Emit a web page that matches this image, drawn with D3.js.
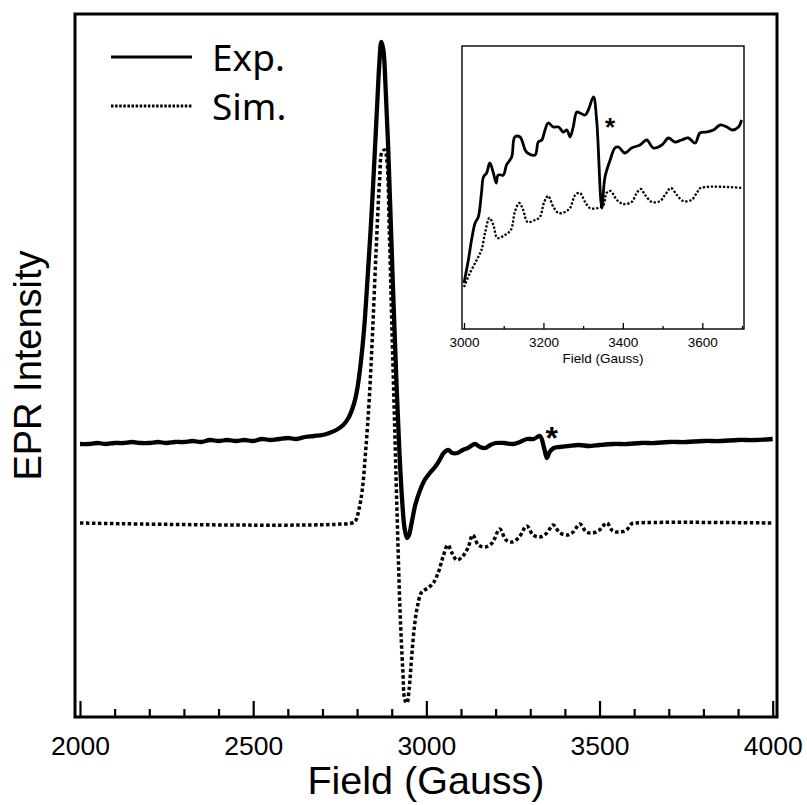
<!DOCTYPE html>
<html>
<head>
<meta charset="utf-8">
<script src="https://cdn.jsdelivr.net/npm/d3@7"></script>
<style>
  html, body { margin: 0; padding: 0; background: #fff; }
  svg { display: block; }
  .arial { font-family: "Liberation Sans", Arial, Helvetica, sans-serif; }
  .legend-text { font-family: "Noto Sans", "Open Sans", sans-serif; }
</style>
</head>
<body>
<svg id="chart" width="807" height="805"></svg>
<script>
// ---- Main spectrum: field (G) and intensity (arb. units) ----
const expField = [2000,2025,2050,2075,2100,2125,2150,2175,2200,2225,2250,2275,2300,2325,2350,2375,2400,2425,2450,2475,2500,2525,2550,2575,2600,2625,2650,2675,2700,2720,2740,2760,2775,2790,2800,2810,2820,2830,2840,2850,2858,2864,2870,2876,2882,2890,2898,2906,2914,2922,2930,2937,2944,2950,2958,2968,2980,2995,3010,3025,3040,3050,3063,3075,3090,3105,3120,3140,3155,3170,3185,3200,3225,3250,3270,3290,3310,3328,3340,3348,3356,3368,3385,3410,3440,3470,3500,3540,3580,3620,3660,3700,3750,3800,3850,3900,3950,4000];
const expIntensity = [-1,-1,0,-1,0,0,1,0,0,1,0,1,1,2,1,3,2,3,2,3,2,4,3,4,5,4,6,7,8,10,13,18,25,38,53,78,113,163,218,283,338,378,401,393,358,293,213,133,58,-7,-57,-85,-95,-92,-79,-62,-49,-37,-30,-24,-16,-10,-7,-10,-10,-7,-5,-1,-4,-5,-2,0,0,-1,1,4,4,7,-5,-15,-9,-5,-4,-3,-2,-3,-2,-1,-1,0,0,1,1,2,2,3,3,4];

const simField = [2000,2785,2795,2805,2815,2825,2835,2845,2855,2865,2872,2880,2886,2893,2900,2908,2916,2924,2932,2938,2944,2950,2958,2966,2975,2985,2995,3005,3020,3035,3048,3062,3074,3088,3103,3120,3134,3150,3170,3190,3212,3230,3248,3268,3290,3308,3328,3348,3366,3386,3408,3424,3443,3462,3480,3500,3521,3538,3558,3578,3592,3605,4000];
const simIntensity = [-80,-80,-78,-67,-47,-7,43,113,193,263,291,293,283,213,123,23,-77,-167,-227,-257,-260,-247,-212,-182,-162,-150,-147,-145,-140,-129,-114,-102,-110,-117,-114,-105,-92,-102,-104,-100,-86,-97,-99,-94,-83,-92,-94,-90,-82,-90,-92,-89,-81,-89,-90,-87,-80,-88,-89,-87,-81,-80,-80];

// ---- Inset: 3000–3700 G region, expanded ----
const insetExpField = [3000,3011,3019,3028,3036,3044,3049,3057,3065,3074,3081,3086,3099,3107,3120,3128,3141,3154,3160,3179,3187,3196,3204,3212,3225,3238,3250,3259,3267,3275,3284,3292,3305,3313,3326,3334,3347,3355,3368,3380,3389,3405,3422,3443,3460,3477,3498,3515,3531,3548,3565,3582,3594,3611,3628,3645,3662,3675,3691,3699];
const insetExpIntensity = [46,69,89,106,112,136,152,156,166,156,146,154,154,164,172,192,192,179,176,174,187,189,199,206,202,202,197,199,192,202,217,216,214,219,232,209,121,152,169,181,182,176,181,184,189,181,184,191,187,189,191,186,196,197,199,204,202,199,202,209];

const insetSimField = [3000,3015,3032,3044,3053,3064,3074,3084,3103,3118,3128,3139,3149,3160,3179,3191,3202,3212,3225,3238,3254,3267,3280,3292,3305,3317,3338,3351,3359,3369,3385,3401,3422,3435,3445,3456,3473,3494,3506,3521,3536,3552,3573,3586,3596,3700];
const insetSimIntensity = [42,56,69,79,96,111,104,91,94,99,117,126,119,107,109,112,127,133,122,116,117,121,134,136,127,121,121,124,136,138,129,125,127,136,140,134,127,128,134,141,134,128,129,136,141,141];

// ---- Axis ticks and labels ----
const mainMajorTicks = [2000, 2500, 3000, 3500, 4000];
const mainMinorTicks = d3.range(2000, 4001, 100).filter(v => v % 500 !== 0);
const insetMajorTicks = [3000, 3200, 3400, 3600];
const insetMinorTicks = [3100, 3300, 3500, 3700];
const seriesNames = ["Exp.", "Sim."];
const xTitle = "Field (Gauss)";
const yTitle = "EPR Intensity";

const svg = d3.select("#chart");
const zip = (xs, ys) => xs.map((x, i) => [x, ys[i]]);

// ---------- main panel ----------
const frame = {left: 75, right: 777, top: 14, bottom: 717};
const x = d3.scaleLinear().domain([2000, 4000]).range([80, 772.7]);
const y = d3.scaleLinear().domain([-274, 429]).range([frame.bottom, frame.top]);

const line = d3.line().x(d => x(d[0])).y(d => y(d[1])).curve(d3.curveCatmullRom.alpha(0.5));

svg.append("path")
  .datum(zip(simField, simIntensity))
  .attr("d", line)
  .attr("fill", "none").attr("stroke", "#000")
  .attr("stroke-width", 3.5).attr("stroke-dasharray", "3.5,2.5");

svg.append("path")
  .datum(zip(expField, expIntensity))
  .attr("d", line)
  .attr("fill", "none").attr("stroke", "#000")
  .attr("stroke-width", 4.3).attr("stroke-linejoin", "round");

// ticks pointing inward from the bottom edge
const majorAxis = d3.axisBottom(x).tickValues(mainMajorTicks).tickSize(-16).tickPadding(19).tickFormat(d3.format("d"));
const minorAxis = d3.axisBottom(x).tickValues(mainMinorTicks).tickSize(-8).tickFormat("");
const gMinor = svg.append("g").attr("transform", `translate(0,${frame.bottom})`).call(minorAxis);
const gMajor = svg.append("g").attr("transform", `translate(0,${frame.bottom})`).call(majorAxis);
[gMinor, gMajor].forEach(g => {
  g.attr("font-family", null).attr("font-size", null);
  g.select(".domain").remove();
  g.selectAll(".tick line").attr("stroke", "#000").attr("stroke-width", 2.2);
});
gMajor.selectAll(".tick text")
  .attr("class", "arial")
  .attr("font-size", 26.5).attr("fill", "#000");

svg.append("rect")
  .attr("x", frame.left).attr("y", frame.top)
  .attr("width", frame.right - frame.left).attr("height", frame.bottom - frame.top)
  .attr("fill", "none").attr("stroke", "#000").attr("stroke-width", 3);

svg.append("text")
  .attr("class", "arial")
  .attr("x", (frame.left + frame.right) / 2).attr("y", 794)
  .attr("text-anchor", "middle")
  .attr("font-size", 39.5).text(xTitle);

svg.append("text")
  .attr("class", "arial")
  .attr("transform", `translate(41,${(frame.top + frame.bottom) / 2}) rotate(-90)`)
  .attr("text-anchor", "middle")
  .attr("font-size", 38).text(yTitle);

svg.append("text")
  .attr("class", "arial")
  .attr("x", x(3362)).attr("y", y(-6))
  .attr("text-anchor", "middle")
  .attr("font-weight", "bold")
  .attr("font-size", 32).text("*");

// legend
const legend = svg.append("g");
[[57, null], [106, "2.5,1.6"]].forEach(([ly, dash], i) => {
  legend.append("line")
    .attr("x1", 111).attr("x2", 192).attr("y1", ly).attr("y2", ly)
    .attr("stroke", "#000").attr("stroke-width", 3)
    .attr("stroke-dasharray", dash);
  legend.append("text")
    .attr("class", "legend-text")
    .attr("x", 212).attr("y", ly + 14)
    .attr("font-size", 37).text(seriesNames[i]);
});

// ---------- inset ----------
const inFrame = {left: 462, right: 744, top: 46, bottom: 329};
const xi = d3.scaleLinear().domain([3000, 3700]).range([464, 742]);
const yi = d3.scaleLinear().domain([0, 283]).range([inFrame.bottom, inFrame.top]);
const lineIn = d3.line().x(d => xi(d[0])).y(d => yi(d[1])).curve(d3.curveCatmullRom.alpha(0.5));

const inset = svg.append("g");
inset.append("rect")
  .attr("x", inFrame.left).attr("y", inFrame.top)
  .attr("width", inFrame.right - inFrame.left).attr("height", inFrame.bottom - inFrame.top)
  .attr("fill", "#fff").attr("stroke", "none");

inset.append("path")
  .datum(zip(insetSimField, insetSimIntensity))
  .attr("d", lineIn)
  .attr("fill", "none").attr("stroke", "#000")
  .attr("stroke-width", 2.3).attr("stroke-dasharray", "2.3,1.7");

inset.append("path")
  .datum(zip(insetExpField, insetExpIntensity))
  .attr("d", lineIn)
  .attr("fill", "none").attr("stroke", "#000")
  .attr("stroke-width", 2.8).attr("stroke-linejoin", "round");

const inMajor = d3.axisBottom(xi).tickValues(insetMajorTicks).tickSize(-6).tickPadding(8).tickFormat(d3.format("d"));
const inMinor = d3.axisBottom(xi).tickValues(insetMinorTicks).tickSize(-3).tickFormat("");
const giMinor = inset.append("g").attr("transform", `translate(0,${inFrame.bottom})`).call(inMinor);
const giMajor = inset.append("g").attr("transform", `translate(0,${inFrame.bottom})`).call(inMajor);
[giMinor, giMajor].forEach(g => {
  g.attr("font-family", null).attr("font-size", null);
  g.select(".domain").remove();
  g.selectAll(".tick line").attr("stroke", "#000").attr("stroke-width", 1.3);
});
giMajor.selectAll(".tick text")
  .attr("class", "arial")
  .attr("font-size", 13.5).attr("fill", "#000");

inset.append("rect")
  .attr("x", inFrame.left).attr("y", inFrame.top)
  .attr("width", inFrame.right - inFrame.left).attr("height", inFrame.bottom - inFrame.top)
  .attr("fill", "none").attr("stroke", "#000").attr("stroke-width", 1.4);

inset.append("text")
  .attr("class", "arial")
  .attr("x", (inFrame.left + inFrame.right) / 2).attr("y", 363)
  .attr("text-anchor", "middle")
  .attr("font-size", 13.5).text(xTitle);

inset.append("text")
  .attr("class", "arial")
  .attr("x", xi(3368)).attr("y", yi(193))
  .attr("text-anchor", "middle")
  .attr("font-weight", "bold")
  .attr("font-size", 26).text("*");
</script>
</body>
</html>
